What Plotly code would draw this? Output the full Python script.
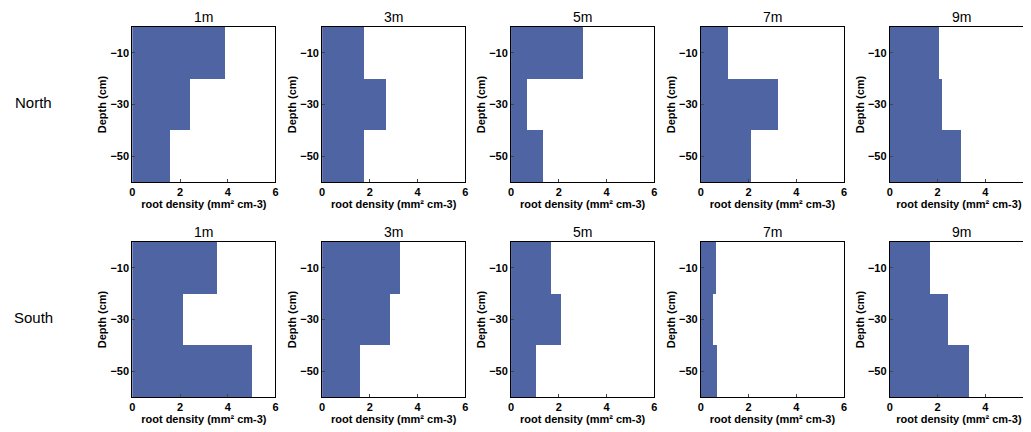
import plotly.graph_objects as go

# Data
distances = ["1m", "3m", "5m", "7m", "9m"]
sides = ["North", "South"]
depth_mid = [-10, -30, -50]
north_density = [
    [3.88, 2.43, 1.6],
    [1.75, 2.67, 1.75],
    [3.0, 0.68, 1.34],
    [1.12, 3.22, 2.1],
    [2.05, 2.2, 2.99],
]
south_density = [
    [3.58, 2.15, 5.03],
    [3.27, 2.85, 1.59],
    [1.66, 2.11, 1.06],
    [0.62, 0.5, 0.67],
    [1.68, 2.45, 3.33],
]
x_ticks = [0, 2, 4, 6]
y_ticks = [-10, -30, -50]

# page body has an 8px margin -> figure origin at (8, 8)
OFF = 8
W, H = 1031 - OFF, 432 - OFF
col_px = [(130, 274), (321, 465), (511, 655), (702, 846), (892, 1036)]
row_px = [(27, 182), (242, 397)]
bar_color = "rgb(79,100,162)"
font_fam = "Liberation Sans, Arial, sans-serif"

fig = go.Figure()
layout = dict(
    width=W, height=H, margin=dict(l=0, r=0, t=0, b=0),
    paper_bgcolor="white", plot_bgcolor="white", showlegend=False,
    font=dict(family=font_fam, color="black"),
    annotations=[], bargap=0,
)

data_rows = [north_density, south_density]
idx = 0
for r, rows in enumerate(data_rows):
    y0p, y1p = [v - OFF for v in row_px[r]]
    for c, vals in enumerate(rows):
        idx += 1
        sfx = "" if idx == 1 else str(idx)
        x0p, x1p = [v - OFF for v in col_px[c]]
        clipped = x1p > W
        right = min(x1p, W)
        xmax = 6 * (right - x0p) / (x1p - x0p)
        fig.add_trace(go.Bar(
            x=vals, y=depth_mid, orientation="h", width=20,
            marker=dict(color=bar_color, line=dict(width=0)),
            xaxis="x" + sfx, yaxis="y" + sfx,
        ))
        layout["xaxis" + sfx] = dict(
            domain=[x0p / W, right / W], anchor="y" + sfx,
            range=[0, xmax], tickvals=x_ticks, ticks="inside", ticklen=3,
            showgrid=False, zeroline=False, showline=True, linecolor="black",
            linewidth=1, mirror=True,
            tickfont=dict(size=11, family=font_fam, weight="bold"),
            title=dict(text="root density (mm² cm-3)", standoff=1,
                       font=dict(size=11, family=font_fam, weight="bold")),
        )
        layout["yaxis" + sfx] = dict(
            domain=[1 - y1p / H, 1 - y0p / H], anchor="x" + sfx,
            range=[-60, 0], tickvals=y_ticks, ticks="inside", ticklen=3,
            showgrid=False, zeroline=False, showline=True, linecolor="black",
            linewidth=1, mirror=(not clipped),
            tickfont=dict(size=11, family=font_fam, weight="bold"),
            title=dict(text="Depth (cm)", standoff=1,
                       font=dict(size=11, family=font_fam, weight="bold")),
        )
        layout["annotations"].append(dict(
            text=distances[c], x=(x0p + x1p) / 2 / W, y=1 - y0p / H,
            xref="paper", yref="paper", xanchor="center", yanchor="bottom",
            yshift=0, showarrow=False, font=dict(size=14, family=font_fam),
        ))
    layout["annotations"].append(dict(
        text=sides[r], x=(31 - OFF) / W, y=1 - ((y0p + y1p) / 2 - 2) / H,
        xref="paper", yref="paper", xanchor="center", yanchor="middle",
        showarrow=False, font=dict(size=15, family=font_fam),
    ))

fig.update_layout(**layout)
fig.write_html("out.html")
